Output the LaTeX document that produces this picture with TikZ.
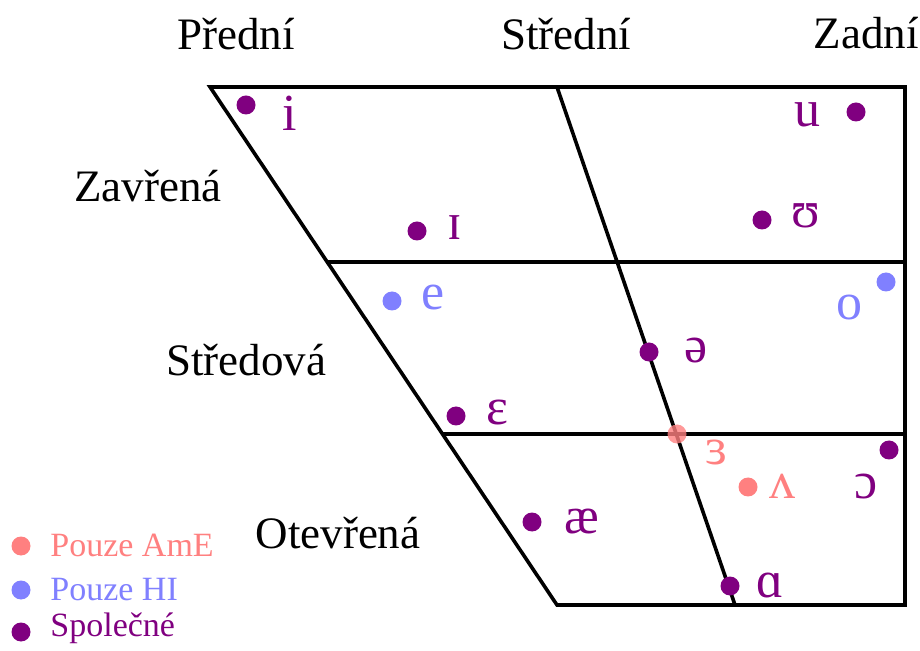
\documentclass[tikz,border=0pt]{standalone}
\usepackage{fontspec}
\setmainfont{Liberation Serif}
\usepackage{tikz}
\usetikzlibrary{positioning}

\definecolor{spol}{RGB}{128,0,128}
\definecolor{hi}{RGB}{128,128,255}
\definecolor{ame}{RGB}{255,128,128}

\begin{document}
\begin{tikzpicture}[x=0.5pt, y=-0.5pt,
    dot/.style={circle, fill=#1, inner sep=0pt, minimum size=9.5pt},
    vowel/.style={text=#1, anchor=base, inner sep=0pt, font=\fontsize{26}{30}\selectfont},
    axis/.style={anchor=base, inner sep=0pt, font=\fontsize{22.5}{27}\selectfont},
    legend/.style={text=#1, anchor=base west, inner sep=0pt, font=\fontsize{17}{20}\selectfont}]
    \useasboundingbox (0,0) rectangle (920,651);

    \coordinate (ftop) at (210,87);
    \coordinate (mtop) at (557,87);
    \coordinate (btop) at (905,87);
    \coordinate (fbot) at (557,605);
    \coordinate (mbot) at (735,605);
    \coordinate (bbot) at (905,605);

    \draw[line width=1.8pt, line join=miter] (ftop) -- (btop) -- (bbot) -- (fbot) -- cycle;
    \draw[line width=1.8pt] (mtop) -- (mbot);
    \draw[line width=1.8pt] (327,262) -- (905,262);
    \draw[line width=1.8pt] (442,434) -- (905,434);

    \node[axis] (predni) at (236,50) {Přední};
    \node[axis] (stredni) at (566,50) {Střední};
    \node[axis] (zadni) at (866,49) {Zadní};
    \node[axis] (zavrena) at (148,202) {Zavřená};
    \node[axis] (stredova) at (246,376) {Středová};
    \node[axis] (otevrena) at (338,548) {Otevřená};

    \node[dot=spol] (di) at (246,105) {};
    \node[vowel=spol] (vi) at (290,131) {i};
    \node[dot=spol] (du) at (856,112) {};
    \node[vowel=spol] (vu) at (807,127) {u};
    \node[dot=spol] (dI) at (417,231) {};
    \node[vowel=spol] (vI) at (455,240) {ɪ};
    \node[dot=spol] (dU) at (762,220) {};
    \node[vowel=spol] (vU) at (806,228) {ʊ};
    \node[dot=hi] (de) at (392,301) {};
    \node[vowel=hi] (ve) at (433,310) {e};
    \node[dot=hi] (do) at (886,282) {};
    \node[vowel=hi] (vo) at (849,320) {o};
    \node[dot=spol] (dschwa) at (649,352) {};
    \node[vowel=spol] (vschwa) at (696,363) {ə};
    \node[dot=spol] (deps) at (456,416) {};
    \node[vowel=spol] (veps) at (497,425) {ɛ};
    \node[dot=ame, opacity=0.8] (derr) at (677,434) {};
    \node[vowel=ame] (verr) at (716,465) {ɜ};
    \node[dot=ame] (dwedge) at (748,487) {};
    \node[vowel=ame] (vwedge) at (782,498) {ʌ};
    \node[dot=spol] (dopen) at (889,450) {};
    \node[vowel=spol] (vopen) at (866,498) {ɔ};
    \node[dot=spol] (dae) at (532,522) {};
    \node[vowel=spol] (vae) at (582,533) {æ};
    \node[dot=spol] (dalpha) at (730,586) {};
    \node[vowel=spol] (valpha) at (770,597) {ɑ};

    \node[dot=ame] (lame) at (21,546) {};
    \node[legend=ame] (tame) at (50,556) {Pouze AmE};
    \node[dot=hi] (lhi) at (21,590) {};
    \node[legend=hi] (thi) at (50,600) {Pouze HI};
    \node[dot=spol] (lspol) at (21,632) {};
    \node[legend=spol] (tspol) at (50,636) {Společné};
  \end{tikzpicture}
\end{document}
